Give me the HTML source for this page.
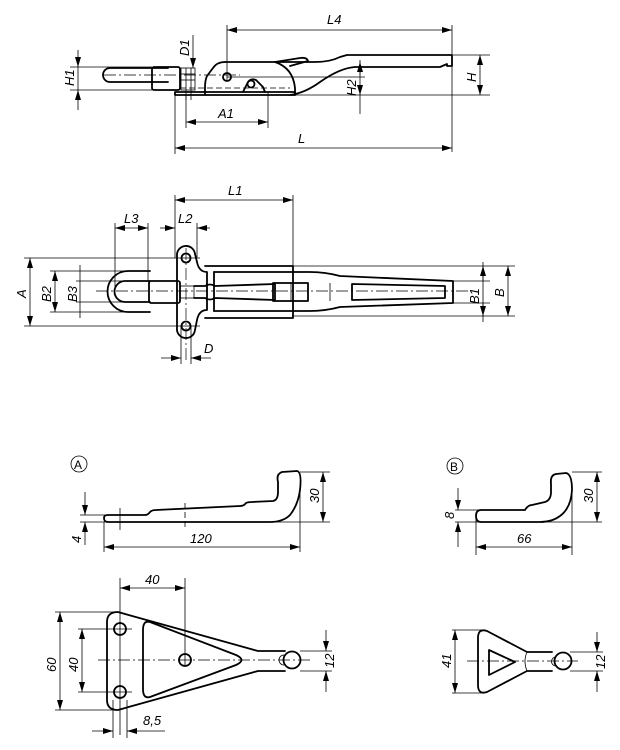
<!DOCTYPE html>
<html><head><meta charset="utf-8"><style>
html,body{margin:0;padding:0;background:#fff;}
svg{display:block;}
text{font-family:"Liberation Sans",sans-serif;font-style:italic;font-size:13px;fill:#000;}
.o{fill:none;stroke:#000;stroke-width:1.8;stroke-linejoin:round;stroke-linecap:round;}
.t{fill:none;stroke:#000;stroke-width:0.8;}
.c{fill:none;stroke:#000;stroke-width:0.7;stroke-dasharray:12 3 2 3;}
.d{fill:none;stroke:#000;stroke-width:0.8;stroke-dasharray:6 3;}
</style></head><body>
<svg width="620" height="750" viewBox="0 0 620 750" xmlns="http://www.w3.org/2000/svg">
<defs>
<marker id="a" viewBox="0 0 10 6" refX="10" refY="3" markerWidth="10" markerHeight="6" orient="auto-start-reverse" markerUnits="userSpaceOnUse"><path d="M0,0 L10,3 L0,6z" fill="#000"/></marker>
</defs>

<!-- ===== TOP SIDE VIEW ===== -->
<line class="t" x1="227" y1="30" x2="452" y2="30" marker-start="url(#a)" marker-end="url(#a)"/>
<line class="t" x1="227" y1="25" x2="227" y2="80"/>
<line class="t" x1="452" y1="25" x2="452" y2="152"/>
<text x="327" y="24">L4</text>
<path class="o" d="M275,62 L315,62 Q330,62 340,57 L347,55 L452,55 L452,66 L447,66 L447,64 L440,67 L355,67 Q340,68 320,82 Q305,93 290,95"/>
<path class="o" d="M275,62 L300,58 Q307,57 308,61 L290,66"/>
<path class="o" d="M225,62 L275,62 Q293,68 295,88 L295,95"/>
<path class="o" d="M225,62 Q217,62 213,68 L207,76 Q205,80 205,88 L205,95"/>
<path class="o" d="M175,95 L295,95 L295,92 L175,92z"/>
<circle class="o" cx="227" cy="77" r="4"/>
<path class="o" d="M243,92 L248,82 Q251,78 256,80 L263,87 L265,92"/>
<circle class="o" cx="251" cy="84" r="3.5"/>
<path class="o" d="M110,68 L168,68 M110,82 L168,82 M110,68 A7,7 0 0 0 110,82"/>
<rect class="o" x="152" y="67" width="28" height="23" rx="2"/>
<rect class="t" x="181" y="68" width="14" height="22"/>
<line class="t" x1="181" y1="74" x2="195" y2="74"/><line class="t" x1="181" y1="80" x2="195" y2="80"/>
<line class="t" x1="186" y1="68" x2="186" y2="100"/><line class="t" x1="191" y1="68" x2="191" y2="100"/>
<line class="c" x1="104" y1="75" x2="240" y2="75"/>
<line class="d" x1="180" y1="88" x2="290" y2="88"/>
<line class="t" x1="227" y1="77" x2="365" y2="77"/>
<line class="t" x1="70" y1="67" x2="152" y2="67"/>
<line class="t" x1="70" y1="90" x2="152" y2="90"/>
<line class="t" x1="78" y1="50" x2="78" y2="67" marker-end="url(#a)"/>
<line class="t" x1="78" y1="110" x2="78" y2="90" marker-end="url(#a)"/>
<line class="t" x1="78" y1="67" x2="78" y2="90"/>
<text transform="translate(74,86) rotate(-90)">H1</text>
<line class="t" x1="193" y1="35" x2="193" y2="68" marker-end="url(#a)"/>
<text transform="translate(189,56) rotate(-90)">D1</text>
<line class="t" x1="175" y1="95" x2="490" y2="95"/>
<line class="t" x1="453" y1="55" x2="490" y2="55"/>
<line class="t" x1="360" y1="60" x2="360" y2="114"/>
<line class="t" x1="360" y1="75" x2="360" y2="62" marker-end="url(#a)"/>
<line class="t" x1="360" y1="85" x2="360" y2="95" marker-end="url(#a)"/>
<text transform="translate(356,96) rotate(-90)">H2</text>
<line class="t" x1="480" y1="55" x2="480" y2="95" marker-start="url(#a)" marker-end="url(#a)"/>
<text transform="translate(476,82) rotate(-90)">H</text>
<line class="t" x1="186" y1="95" x2="186" y2="128"/>
<line class="t" x1="268" y1="92" x2="268" y2="128"/>
<line class="t" x1="186" y1="122" x2="268" y2="122" marker-start="url(#a)" marker-end="url(#a)"/>
<text x="218" y="118">A1</text>
<line class="t" x1="175" y1="95" x2="175" y2="154"/>
<line class="t" x1="175" y1="148" x2="452" y2="148" marker-start="url(#a)" marker-end="url(#a)"/>
<text x="298" y="143">L</text>

<!-- ===== MIDDLE PLAN VIEW ===== -->
<line class="t" x1="175" y1="195" x2="175" y2="258"/>
<line class="t" x1="293" y1="195" x2="293" y2="266"/>
<line class="t" x1="175" y1="200" x2="293" y2="200" marker-start="url(#a)" marker-end="url(#a)"/>
<text x="228" y="195">L1</text>
<line class="t" x1="115" y1="223" x2="115" y2="291"/>
<line class="t" x1="148" y1="223" x2="148" y2="281"/>
<line class="t" x1="115" y1="228" x2="148" y2="228" marker-start="url(#a)" marker-end="url(#a)"/>
<text x="124" y="223">L3</text>
<line class="t" x1="197" y1="223" x2="197" y2="258"/>
<line class="t" x1="160" y1="228" x2="175" y2="228" marker-end="url(#a)"/>
<line class="t" x1="210" y1="228" x2="197" y2="228" marker-end="url(#a)"/>
<text x="178" y="223">L2</text>
<path class="o" d="M177,256 A9,9 0 0 1 195,254 L197,262 Q199,272 207,272 L207,310 Q199,310 197,320 L195,330 A9,9 0 0 1 177,328 Z"/>
<circle class="o" cx="186" cy="258" r="4.5"/><circle class="o" cx="186" cy="326" r="4.5"/>
<path class="o" d="M150,271 L128,271 A20.5,20.5 0 0 0 128,312 L150,312"/>
<path class="o" d="M150,281 L125,281 A10,10 0 0 0 125,302 L150,302"/>
<rect class="o" x="149" y="281" width="31" height="22" rx="2"/>
<rect class="t" x="180" y="286" width="14" height="12"/>
<path class="o" d="M205,266 L293,266 L293,318 L205,318"/>
<path class="o" d="M214,272 L310,272 Q325,272 340,276 L453,281 L453,303 L340,307 Q325,311 310,311 L214,311"/>
<line class="o" x1="214" y1="272" x2="214" y2="311"/>
<path class="o" d="M194,286 L205,286 Q210,283 215,286 L275,284 L275,300 L215,298 Q210,301 205,298 L194,298"/>
<rect class="o" x="273" y="283" width="35" height="18"/>
<path class="o" d="M352,284 L445,286 L445,298 L352,300 Z"/>
<line class="t" x1="291" y1="283" x2="291" y2="301"/>
<line class="t" x1="330" y1="283" x2="330" y2="301"/>
<line class="c" x1="96" y1="291" x2="470" y2="291"/>
<line class="c" x1="186" y1="248" x2="186" y2="362"/>
<line class="t" x1="24" y1="258" x2="200" y2="258"/>
<line class="t" x1="24" y1="326" x2="200" y2="326"/>
<line class="t" x1="30" y1="258" x2="30" y2="326" marker-start="url(#a)" marker-end="url(#a)"/>
<text transform="translate(26,298) rotate(-90)">A</text>
<line class="t" x1="50" y1="271" x2="130" y2="271"/>
<line class="t" x1="50" y1="312" x2="130" y2="312"/>
<line class="t" x1="55" y1="271" x2="55" y2="312" marker-start="url(#a)" marker-end="url(#a)"/>
<text transform="translate(51,302) rotate(-90)">B2</text>
<line class="t" x1="76" y1="281" x2="150" y2="281"/>
<line class="t" x1="76" y1="302" x2="150" y2="302"/>
<line class="t" x1="80" y1="265" x2="80" y2="318"/>
<text transform="translate(77,302) rotate(-90)">B3</text>
<line class="t" x1="293" y1="266" x2="515" y2="266"/>
<line class="t" x1="293" y1="316" x2="515" y2="316"/>
<line class="t" x1="483" y1="262" x2="483" y2="322"/>
<line class="t" x1="483" y1="281" x2="483" y2="266" marker-end="url(#a)"/>
<line class="t" x1="483" y1="303" x2="483" y2="316" marker-end="url(#a)"/>
<line class="t" x1="453" y1="281" x2="490" y2="281"/><line class="t" x1="453" y1="303" x2="490" y2="303"/>
<text transform="translate(479,304) rotate(-90)">B1</text>
<line class="t" x1="508" y1="266" x2="508" y2="316" marker-start="url(#a)" marker-end="url(#a)"/>
<text transform="translate(504,297) rotate(-90)">B</text>
<line class="t" x1="181" y1="326" x2="181" y2="364"/>
<line class="t" x1="191" y1="326" x2="191" y2="364"/>
<line class="t" x1="161" y1="358" x2="181" y2="358" marker-end="url(#a)"/>
<line class="t" x1="211" y1="358" x2="191" y2="358" marker-end="url(#a)"/>
<text x="204" y="353">D</text>

<!-- ===== A PROFILE ===== -->
<circle class="t" cx="79" cy="464" r="8"/>
<text x="74" y="469" style="font-style:normal;font-size:12px">A</text>
<path class="o" d="M108,515 L145,515 Q148,515 150,512 Q152,510 156,510 L240,506 Q244,506 246,503 Q248,502 252,502 L273,501 Q278,500 278,492 L278,482 Q276,474 282,472 L297,471 Q302,472 300,490 Q298,505 290,515 Q283,522 270,522 L108,522 Q104,522 104,518 Q104,515 108,515 Z"/>
<line class="t" x1="120" y1="508" x2="120" y2="530"/>
<line class="d" x1="185" y1="503" x2="185" y2="530"/>
<line class="t" x1="300" y1="472" x2="330" y2="472"/>
<line class="t" x1="270" y1="522" x2="330" y2="522"/>
<line class="t" x1="323" y1="472" x2="323" y2="522" marker-start="url(#a)" marker-end="url(#a)"/>
<text transform="translate(319,503) rotate(-90)">30</text>
<line class="t" x1="80" y1="515" x2="108" y2="515"/>
<line class="t" x1="80" y1="522" x2="105" y2="522"/>
<line class="t" x1="85" y1="492" x2="85" y2="515" marker-end="url(#a)"/>
<line class="t" x1="85" y1="545" x2="85" y2="522" marker-end="url(#a)"/>
<text transform="translate(81,543) rotate(-90)">4</text>
<line class="t" x1="104" y1="522" x2="104" y2="552"/>
<line class="t" x1="300" y1="490" x2="300" y2="552"/>
<line class="t" x1="104" y1="547" x2="300" y2="547" marker-start="url(#a)" marker-end="url(#a)"/>
<text x="190" y="543">120</text>

<!-- ===== A PLATE ===== -->
<path class="o" d="M285,651 L258,651 L118,612 Q107,612 107,622 L107,700 Q107,710 118,710 L258,671 L285,671"/>
<path class="o" d="M150,622 Q143,620 143,630 L143,689 Q143,699 150,697 L236,665 Q247,660 236,655 Z"/>
<circle class="o" cx="120" cy="629" r="6"/><circle class="o" cx="120" cy="692" r="6"/><circle class="o" cx="185" cy="660" r="6"/>
<circle class="o" cx="292" cy="660" r="8.5"/>
<path class="t" d="M284,655 A4,4 0 0 0 284,665"/>
<line class="c" x1="98" y1="660" x2="312" y2="660"/>
<line class="t" x1="120" y1="578" x2="120" y2="735"/>
<line class="t" x1="185" y1="578" x2="185" y2="665"/>
<line class="t" x1="120" y1="588" x2="185" y2="588" marker-start="url(#a)" marker-end="url(#a)"/>
<text x="145" y="584">40</text>
<line class="t" x1="55" y1="612" x2="118" y2="612"/><line class="t" x1="55" y1="710" x2="118" y2="710"/>
<line class="t" x1="60" y1="612" x2="60" y2="710" marker-start="url(#a)" marker-end="url(#a)"/>
<text transform="translate(56,672) rotate(-90)">60</text>
<line class="t" x1="78" y1="629" x2="132" y2="629"/><line class="t" x1="78" y1="692" x2="132" y2="692"/>
<line class="t" x1="82" y1="629" x2="82" y2="692" marker-start="url(#a)" marker-end="url(#a)"/>
<text transform="translate(78,672) rotate(-90)">40</text>
<line class="t" x1="113" y1="700" x2="113" y2="738"/><line class="t" x1="127" y1="700" x2="127" y2="738"/>
<line class="t" x1="92" y1="731" x2="113" y2="731" marker-end="url(#a)"/>
<line class="t" x1="165" y1="731" x2="127" y2="731" marker-end="url(#a)"/>
<text x="143" y="725">8,5</text>
<line class="t" x1="300" y1="651" x2="332" y2="651"/><line class="t" x1="300" y1="671" x2="332" y2="671"/>
<line class="t" x1="326" y1="630" x2="326" y2="651" marker-end="url(#a)"/>
<line class="t" x1="326" y1="692" x2="326" y2="671" marker-end="url(#a)"/>
<text transform="translate(334,668) rotate(-90)">12</text>

<!-- ===== B PROFILE ===== -->
<circle class="t" cx="455" cy="466" r="8"/>
<text x="450" y="471" style="font-style:normal;font-size:12px">B</text>
<path class="o" d="M481,510 L525,510 Q528,505 532,505 L545,502 Q551,500 551,492 L551,484 Q550,475 556,474 L566,473 Q572,474 572,490 Q571,508 560,516 Q552,522 540,522 L481,522 Q476,522 476,516 Q476,510 481,510 Z"/>
<line class="t" x1="572" y1="472" x2="602" y2="472"/><line class="t" x1="540" y1="522" x2="602" y2="522"/>
<line class="t" x1="597" y1="472" x2="597" y2="522" marker-start="url(#a)" marker-end="url(#a)"/>
<text transform="translate(593,503) rotate(-90)">30</text>
<line class="t" x1="455" y1="510" x2="481" y2="510"/><line class="t" x1="455" y1="522" x2="478" y2="522"/>
<line class="t" x1="458" y1="488" x2="458" y2="510" marker-end="url(#a)"/>
<line class="t" x1="458" y1="547" x2="458" y2="522" marker-end="url(#a)"/>
<text transform="translate(454,519) rotate(-90)">8</text>
<line class="t" x1="476" y1="516" x2="476" y2="555"/><line class="t" x1="572" y1="490" x2="572" y2="555"/>
<line class="t" x1="476" y1="547" x2="572" y2="547" marker-start="url(#a)" marker-end="url(#a)"/>
<text x="517" y="543">66</text>

<!-- ===== B PLATE ===== -->
<path class="o" d="M552,652 L527,652 L487,631 Q478,628 478,638 L478,685 Q478,695 487,692 L527,671 L552,671"/>
<path class="o" d="M489,650 L515,662 L489,675 Z"/>
<path class="t" d="M527,652 Q523,661 527,671"/>
<circle class="o" cx="563" cy="661" r="8.5"/>
<path class="t" d="M556,657 A4,4 0 0 0 556,666"/>
<line class="c" x1="467" y1="661" x2="578" y2="661"/>
<line class="t" x1="452" y1="630" x2="485" y2="630"/><line class="t" x1="452" y1="693" x2="485" y2="693"/>
<line class="t" x1="455" y1="630" x2="455" y2="693" marker-start="url(#a)" marker-end="url(#a)"/>
<text transform="translate(451,668) rotate(-90)">41</text>
<line class="t" x1="570" y1="652" x2="603" y2="652"/><line class="t" x1="570" y1="671" x2="603" y2="671"/>
<line class="t" x1="597" y1="632" x2="597" y2="652" marker-end="url(#a)"/>
<line class="t" x1="597" y1="692" x2="597" y2="671" marker-end="url(#a)"/>
<text transform="translate(605,669) rotate(-90)">12</text>
</svg>
</body></html>
